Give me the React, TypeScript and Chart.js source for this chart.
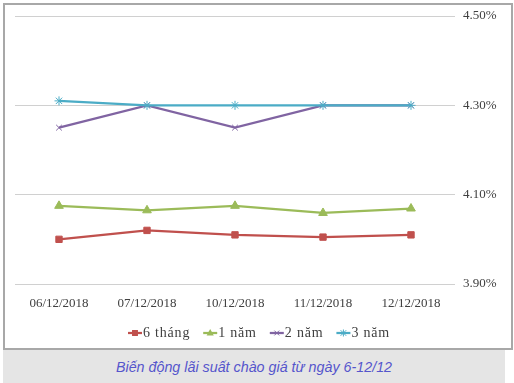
import React, { useEffect, useRef } from "react";
import { Chart, registerables } from "chart.js";

Chart.register(...registerables);

const categories = ["06/12/2018", "07/12/2018", "10/12/2018", "11/12/2018", "12/12/2018"];
const seriesNames = ["6 tháng", "1 năm", "2 năm", "3 năm"];
const sixMonth = [4.0, 4.02, 4.01, 4.005, 4.01];
const oneYear = [4.075, 4.065, 4.075, 4.059, 4.069];
const twoYear = [4.25, 4.3, 4.25, 4.3, 4.3];
const threeYear = [4.31, 4.3, 4.3, 4.3, 4.3];
const yMin = 3.9;
const yMax = 4.5;
const yStep = 0.2;
const caption = "Biến động lãi suất chào giá từ ngày 6-12/12";

const colors = ["#C0504D", "#9BBB59", "#8064A2", "#4BACC6"];
const pointStyles = ["rect", "triangle", "crossRot", "star"];
const pointRadii = [4.5, 5, 4, 4.5];

const FONT = "'Liberation Serif', 'Times New Roman', serif";

function drawMarker(ctx: CanvasRenderingContext2D, style: string, x: number, y: number, r: number) {
  ctx.beginPath();
  if (style === "rect") {
    const s = r * 0.85;
    ctx.rect(x - s, y - s, 2 * s, 2 * s);
    ctx.fill();
  } else if (style === "triangle") {
    ctx.moveTo(x, y - r);
    ctx.lineTo(x + r * 0.9, y + r * 0.6);
    ctx.lineTo(x - r * 0.9, y + r * 0.6);
    ctx.closePath();
    ctx.fill();
  } else if (style === "crossRot") {
    const s = r * 0.8;
    ctx.moveTo(x - s, y - s);
    ctx.lineTo(x + s, y + s);
    ctx.moveTo(x - s, y + s);
    ctx.lineTo(x + s, y - s);
    ctx.stroke();
  } else {
    const s = r * 0.8;
    ctx.moveTo(x - s, y - s);
    ctx.lineTo(x + s, y + s);
    ctx.moveTo(x - s, y + s);
    ctx.lineTo(x + s, y - s);
    ctx.moveTo(x, y - r);
    ctx.lineTo(x, y + r);
    ctx.stroke();
  }
}

const legendPlugin = {
  id: "customLegend",
  afterDraw(chart: any) {
    const ctx = chart.ctx;
    ctx.save();
    ctx.font = `14px ${FONT}`;
    (ctx as any).letterSpacing = "0.8px";
    const lineLen = 14;
    const gapText = 1;
    const gapItem = 13;
    const widths = seriesNames.map((n) => ctx.measureText(n).width);
    const total =
      widths.reduce((a, b) => a + b, 0) + seriesNames.length * (lineLen + gapText) + (seriesNames.length - 1) * gapItem;
    let x = 259 - total / 2;
    const y = 333;
    seriesNames.forEach((name, i) => {
      ctx.strokeStyle = colors[i];
      ctx.lineWidth = 2.25;
      ctx.beginPath();
      ctx.moveTo(x, y);
      ctx.lineTo(x + lineLen, y);
      ctx.stroke();
      const cx = x + lineLen / 2;
      ctx.fillStyle = colors[i];
      ctx.lineWidth = 1;
      drawMarker(ctx, pointStyles[i], cx, y, pointRadii[i] - 1);
      ctx.fillStyle = "#404040";
      ctx.textBaseline = "middle";
      ctx.textAlign = "left";
      ctx.fillText(name, x + lineLen + gapText, y);
      x += lineLen + gapText + widths[i] + gapItem;
    });
    ctx.restore();
  },
};

export default function App() {
  const ref = useRef<HTMLCanvasElement | null>(null);

  useEffect(() => {
    if (!ref.current) return;
    const data = [sixMonth, oneYear, twoYear, threeYear];
    const chart = new Chart(ref.current, {
      type: "line",
      data: {
        labels: categories,
        datasets: seriesNames.map((name, i) => ({
          label: name,
          data: data[i],
          borderColor: colors[i],
          backgroundColor: colors[i],
          borderWidth: 2.25,
          pointStyle: pointStyles[i] as any,
          pointRadius: pointRadii[i],
          pointBorderWidth: 1,
          pointBorderColor: colors[i],
          pointBackgroundColor: colors[i],
          tension: 0,
          order: 3 - i,
        })),
      },
      options: {
        responsive: false,
        animation: false,
        events: [],
        layout: { padding: { left: 15, top: 16, right: 0, bottom: 0 } },
        plugins: { legend: { display: false }, tooltip: { enabled: false } },
        scales: {
          x: {
            offset: true,
            grid: { display: false, drawTicks: false },
            border: { display: false },
            ticks: {
              color: "#404040",
              font: { family: FONT, size: 13 },
              padding: 12,
              maxRotation: 0,
            },
            afterFit: (s: any) => {
              s.height = 66;
            },
          },
          y: {
            position: "right",
            min: yMin,
            max: yMax,
            grid: { color: "#d0d0d0", lineWidth: 1, drawTicks: false },
            border: { display: false },
            ticks: {
              stepSize: yStep,
              padding: 8,
              color: "#404040",
              font: { family: FONT, size: 13 },
              callback: (v: any) => Number(v).toFixed(2) + "%",
            },
            afterFit: (s: any) => {
              s.width = 59;
            },
          },
        },
      },
      plugins: [legendPlugin],
    });
    return () => chart.destroy();
  }, []);

  return (
    <div style={{ position: "fixed", left: 0, top: 0, width: 514, height: 383, background: "#fff" }}>
      <div
        style={{
          position: "absolute",
          left: 3,
          top: 3,
          width: 506,
          height: 343,
          border: "2px solid #a8a8a8",
        }}
      />
      <canvas
        ref={ref}
        width={514}
        height={350}
        style={{ position: "absolute", left: 0, top: 0, width: 514, height: 350 }}
      />
      <div
        style={{
          position: "absolute",
          left: 3,
          top: 350,
          width: 502,
          height: 33,
          background: "#e5e5e5",
          color: "#5555cc",
          fontFamily: "'Liberation Sans', Arial, sans-serif",
          fontStyle: "italic",
          fontSize: 14.3,
          paddingTop: 2,
          boxSizing: "border-box",
          lineHeight: "31px",
          textAlign: "center",
        }}
      >
        {caption}
      </div>
    </div>
  );
}
